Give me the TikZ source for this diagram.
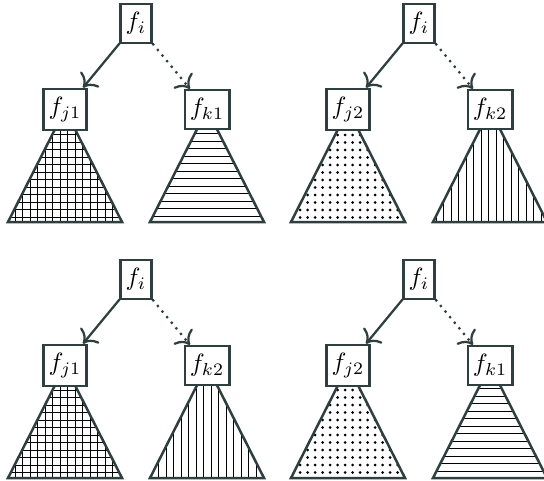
\documentclass[tikz,border=0pt]{standalone}
\usepackage{amsmath}
\usetikzlibrary{arrows.meta, patterns, patterns.meta, backgrounds, calc}
\definecolor{tSlate}{HTML}{2F3F3F}

\begin{document}
\begin{tikzpicture}[x=0.4pt, y=0.4pt,
      fbox/.style={draw=tSlate, fill=white, line width=1pt, inner xsep=2pt, minimum height=14.8pt},
      tri/.style={draw=tSlate, line width=1pt, pattern color=black},
      pgrid/.style={pattern=grid},
      phlines/.style={pattern=horizontal lines},
      pvlines/.style={pattern=vertical lines},
      pdots/.style={pattern={Dots[distance=3pt, radius=0.6pt]}},
      edge/.style={tSlate, line width=0.9pt, -{To[scale=1.3]}}]
    \useasboundingbox (0,0) rectangle (544,480);
    \foreach \t/\x/\y/\ja/\ka/\jp/\kp in {
        a/0/0/1/1/pgrid/phlines, b/283/0/2/2/pdots/pvlines,
        c/0/-256/1/2/pgrid/pvlines, d/283/-256/2/1/pdots/phlines} {
      \node[fbox] (r\t) at (136+\x,456.5+\y) {$f_i$};
      \node[fbox] (j\t) at (65+\x,370.5+\y) {$f_{j\ja}$};
      \node[fbox] (k\t) at (207+\x,370.5+\y) {$f_{k\ka}$};
      \begin{scope}[on background layer]
        \draw[tri, \jp] (j\t.center) -- ++(-57,-112.5) -- ++(114,0) -- cycle;
        \draw[tri, \kp] (k\t.center) -- ++(-57,-112.5) -- ++(114,0) -- cycle;
      \end{scope}
      \draw[edge] (r\t) -- (j\t);
      \draw[edge, dotted] (r\t) -- (k\t);
    }
  \end{tikzpicture}
\end{document}
